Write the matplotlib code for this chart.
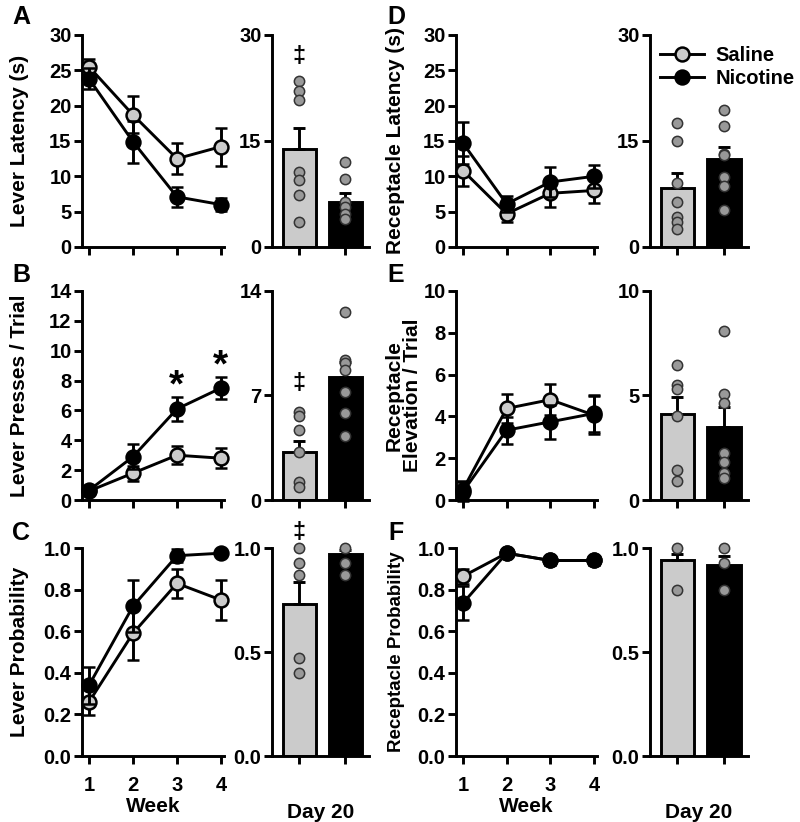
import matplotlib
matplotlib.use('Agg')
import matplotlib.pyplot as plt
from matplotlib.lines import Line2D

plt.rcParams['font.family'] = ['Liberation Sans', 'DejaVu Sans']
plt.rcParams['font.weight'] = 'bold'
plt.rcParams['axes.labelweight'] = 'bold'

weeks = [1, 2, 3, 4]
groups = ['Saline', 'Nicotine']

# A: Lever latency
lat_sal = [25.5, 18.7, 12.5, 14.2]
lat_sal_sem = [1.1, 2.6, 2.2, 2.7]
lat_nic = [23.8, 14.9, 7.1, 6.0]
lat_nic_sem = [1.5, 3.0, 1.4, 0.9]
lat_bar = [13.8, 6.3]
lat_bar_sem = [3.1, 1.3]
lat_dots_sal = [23.5, 22.1, 20.8, 10.6, 9.5, 7.3, 3.5]
lat_dots_nic = [12.0, 9.6, 6.3, 5.7, 4.7, 4.0]

# B: Lever presses / trial
prs_sal = [0.6, 1.8, 3.0, 2.8]
prs_sal_sem = [0.2, 0.5, 0.6, 0.65]
prs_nic = [0.65, 2.9, 6.1, 7.5]
prs_nic_sem = [0.2, 0.85, 0.8, 0.75]
prs_bar = [3.2, 8.25]
prs_bar_sem = [0.75, 1.0]
prs_dots_sal = [5.9, 5.6, 4.7, 3.2, 1.2, 0.9]
prs_dots_nic = [12.6, 9.4, 9.15, 8.7, 7.25, 5.8, 4.3]

# C: Lever probability
prb_sal = [0.26, 0.59, 0.83, 0.75]
prb_sal_sem = [0.065, 0.13, 0.07, 0.095]
prb_nic = [0.34, 0.72, 0.963, 0.975]
prb_nic_sem = [0.09, 0.125, 0.03, 0.01]
prb_bar = [0.73, 0.97]
prb_bar_sem = [0.105, 0.02]
prb_dots_sal = [1.0, 0.93, 0.87, 0.47, 0.40]
prb_dots_nic = [1.0, 0.93, 0.87]

# D: Receptacle latency
rlat_sal = [10.8, 4.7, 7.6, 8.0]
rlat_sal_sem = [2.1, 1.2, 1.9, 1.8]
rlat_nic = [14.7, 6.1, 9.2, 10.0]
rlat_nic_sem = [3.0, 1.1, 2.1, 1.6]
rlat_bar = [8.4, 12.4]
rlat_bar_sem = [2.1, 1.8]
rlat_dots_sal = [17.6, 15.0, 9.0, 6.4, 4.3, 3.5, 2.6]
rlat_dots_nic = [19.4, 17.1, 13.2, 13.0, 9.9, 8.7, 5.3]

# E: Receptacle elevation / trial
elv_sal = [0.5, 4.38, 4.8, 4.06]
elv_sal_sem = [0.4, 0.7, 0.75, 0.9]
elv_nic = [0.4, 3.34, 3.74, 4.14]
elv_nic_sem = [0.45, 0.65, 0.8, 0.9]
elv_bar = [4.1, 3.5]
elv_bar_sem = [0.85, 0.93]
elv_dots_sal = [6.45, 5.5, 5.3, 4.0, 1.43, 0.92]
elv_dots_nic = [8.1, 5.06, 4.65, 2.26, 1.83, 1.3, 1.04]

# F: Receptacle probability
rprb_sal = [0.864, 0.975, 0.94, 0.94]
rprb_sal_sem = [0.035, 0.02, 0.02, 0.02]
rprb_nic = [0.735, 0.975, 0.94, 0.94]
rprb_nic_sem = [0.08, 0.02, 0.02, 0.02]
rprb_bar = [0.94, 0.92]
rprb_bar_sem = [0.03, 0.04]
rprb_dots_sal = [1.0, 0.8]
rprb_dots_nic = [1.0, 0.93, 0.8]

SAL_C = '#cbcbcb'
NIC_C = 'black'
DOT_C = '#999999'
LW = 2.1
FS = 14.5
FL = 15

W, H = 800, 822
fig = plt.figure(figsize=(8, 8.22), dpi=100)

rows_px = [(35, 247), (291, 500), (548, 756)]
cols_px = [(82, 224), (272, 369), (456, 597), (650, 748)]

def ax_at(col, row):
    x0, x1 = cols_px[col]
    y0, y1 = rows_px[row]
    return fig.add_axes([x0 / W, 1 - y1 / H, (x1 - x0) / W, (y1 - y0) / H])

def style(ax):
    for s in ['top', 'right']:
        ax.spines[s].set_visible(False)
    for s in ['left', 'bottom']:
        ax.spines[s].set_linewidth(LW)
    ax.tick_params(direction='out', length=5.5, width=LW, labelsize=FS, pad=2)

def line_panel(ax, sal, sal_sem, nic, nic_sem, ylim, yticks, yfmt, ylabel, label_x, bottom, lfs=FL):
    style(ax)
    ax.errorbar(weeks, sal, yerr=sal_sem, color='black', lw=LW, marker='o', ms=10,
                mfc=SAL_C, mec='black', mew=1.8, capsize=4.5, capthick=LW, elinewidth=LW,
                zorder=3, clip_on=False)
    ax.errorbar(weeks, nic, yerr=nic_sem, color='black', lw=LW, marker='o', ms=10,
                mfc=NIC_C, mec='black', mew=1.8, capsize=4.5, capthick=LW, elinewidth=LW,
                zorder=4, clip_on=False)
    ax.set_xlim(0.84, 4.07)
    ax.set_ylim(*ylim)
    ax.set_yticks(yticks)
    ax.set_yticklabels([yfmt.format(v) for v in yticks])
    ax.set_xticks(weeks)
    if bottom:
        ax.set_xticklabels([str(w) for w in weeks])
        ax.tick_params(axis='x', pad=9)
        ax.set_xlabel('Week', fontsize=FL, labelpad=1)
    else:
        ax.set_xticklabels([])
    ax.set_ylabel(ylabel, fontsize=lfs, linespacing=1.0)
    ax.yaxis.set_label_coords(label_x, 0.5)

def bar_panel(ax, means, sems, dots_sal, dots_nic, ylim, yticks, yfmt, bottom):
    style(ax)
    pos = [0, 1]
    ax.bar(pos, means, width=0.72, color=[SAL_C, NIC_C], edgecolor='black', linewidth=LW, zorder=2)
    ax.errorbar(pos, means, yerr=[[0, 0], sems], fmt='none', ecolor='black',
                elinewidth=LW, capsize=4.5, capthick=LW, zorder=3)
    ax.scatter([0] * len(dots_sal), dots_sal, s=55, c=DOT_C, edgecolors='#333333',
               linewidths=1.1, zorder=4, clip_on=False)
    ax.scatter([1] * len(dots_nic), dots_nic, s=55, c=DOT_C, edgecolors='#333333',
               linewidths=1.1, zorder=4, clip_on=False)
    ax.set_xlim(-0.59, 1.52)
    ax.set_ylim(*ylim)
    ax.set_yticks(yticks)
    ax.set_yticklabels([yfmt.format(v) for v in yticks])
    ax.set_xticks(pos)
    ax.set_xticklabels([])
    if bottom:
        ax.set_xlabel('Day 20', fontsize=FL, labelpad=26)

# Column 1
axA = ax_at(0, 0)
line_panel(axA, lat_sal, lat_sal_sem, lat_nic, lat_nic_sem, (0, 30), list(range(0, 31, 5)), '{:d}',
           'Lever Latency (s)', -0.37, False)
axAb = ax_at(1, 0)
bar_panel(axAb, lat_bar, lat_bar_sem, lat_dots_sal, lat_dots_nic, (0, 30), [0, 15, 30], '{:d}', False)
axAb.text(0, 27.0, '\u2021', ha='center', va='center', fontsize=17, fontweight='bold')

axB = ax_at(0, 1)
line_panel(axB, prs_sal, prs_sal_sem, prs_nic, prs_nic_sem, (0, 14), list(range(0, 15, 2)), '{:d}',
           'Lever Presses / Trial', -0.37, False)
axB.text(3, prs_nic[2] + prs_nic_sem[2] + 0.7, '*', ha='center', va='center', fontsize=28, fontweight='bold')
axB.text(4, prs_nic[3] + prs_nic_sem[3] + 0.7, '*', ha='center', va='center', fontsize=28, fontweight='bold')
axBb = ax_at(1, 1)
bar_panel(axBb, prs_bar, prs_bar_sem, prs_dots_sal, prs_dots_nic, (0, 14), [0, 7, 14], '{:d}', False)
axBb.text(0, 7.8, '\u2021', ha='center', va='center', fontsize=17, fontweight='bold')

axC = ax_at(0, 2)
ticks_p = [0.0, 0.2, 0.4, 0.6, 0.8, 1.0]
line_panel(axC, prb_sal, prb_sal_sem, prb_nic, prb_nic_sem, (0, 1.0), ticks_p, '{:.1f}',
           'Lever Probability', -0.37, True)
axCb = ax_at(1, 2)
bar_panel(axCb, prb_bar, prb_bar_sem, prb_dots_sal, prb_dots_nic, (0, 1.0), [0.0, 0.5, 1.0], '{:.1f}', True)
axCb.text(0, 1.075, '\u2021', ha='center', va='center', fontsize=17, fontweight='bold', clip_on=False)

# Column 2
axD = ax_at(2, 0)
line_panel(axD, rlat_sal, rlat_sal_sem, rlat_nic, rlat_nic_sem, (0, 30), list(range(0, 31, 5)), '{:d}',
           'Receptacle Latency (s)', -0.36, False)
axDb = ax_at(3, 0)
bar_panel(axDb, rlat_bar, rlat_bar_sem, rlat_dots_sal, rlat_dots_nic, (0, 30), [0, 15, 30], '{:d}', False)
handles = [Line2D([], [], color='black', lw=LW, marker='o', ms=10, mfc=SAL_C, mec='black', mew=1.8),
           Line2D([], [], color='black', lw=LW, marker='o', ms=10, mfc=NIC_C, mec='black', mew=1.8)]
axDb.legend(handles, groups, loc='upper left', bbox_to_anchor=(0.1, 0.95), frameon=False,
            fontsize=FS, handlelength=2.2, handletextpad=0.55, labelspacing=0.2,
            borderpad=0, borderaxespad=0)

axE = ax_at(2, 1)
line_panel(axE, elv_sal, elv_sal_sem, elv_nic, elv_nic_sem, (0, 10), list(range(0, 11, 2)), '{:d}',
           'Receptacle\nElevation / Trial', -0.24, False)
axEb = ax_at(3, 1)
bar_panel(axEb, elv_bar, elv_bar_sem, elv_dots_sal, elv_dots_nic, (0, 10), [0, 5, 10], '{:d}', False)

axF = ax_at(2, 2)
line_panel(axF, rprb_sal, rprb_sal_sem, rprb_nic, rprb_nic_sem, (0, 1.0), ticks_p, '{:.1f}',
           'Receptacle Probability', -0.36, True, lfs=13.5)
axFb = ax_at(3, 2)
bar_panel(axFb, rprb_bar, rprb_bar_sem, rprb_dots_sal, rprb_dots_nic, (0, 1.0), [0.0, 0.5, 1.0], '{:.1f}', True)

# Panel letters
for letter, (px, py) in zip('ABCDEF', [(21, 17), (21, 275), (21, 533), (396, 17), (396, 275), (396, 533)]):
    fig.text(px / W, 1 - py / H, letter, fontsize=18, fontweight='bold', ha='center', va='center')

fig.savefig('out.png', dpi=100)
